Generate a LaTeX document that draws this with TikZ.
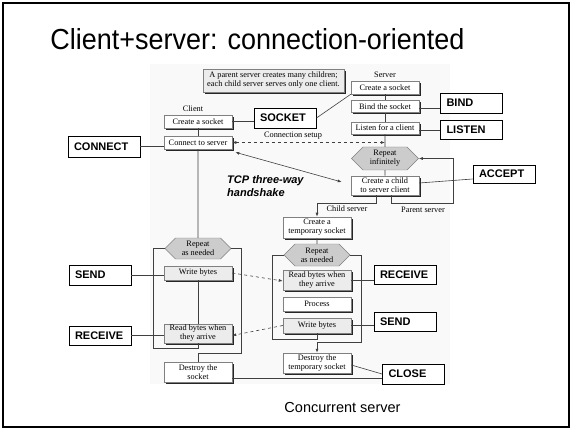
\documentclass[tikz,border=0pt]{standalone}
\usepackage{fontspec}
\setmainfont{Liberation Serif}
\setsansfont{Liberation Sans}
\usetikzlibrary{arrows.meta,shadows,shapes.symbols}

\begin{document}
\begin{tikzpicture}[x=1pt,y=-1pt,
  tip/.style={-{Latex[length=4pt,width=3pt]}},
  dtip/.style={{Latex[length=4pt,width=3pt]}-{Latex[length=4pt,width=3pt]}},
  small/.style={font=\fontsize{8.3}{9}\selectfont},
  stepbox/.style={small, draw=black!50, fill=white, line width=0.5pt,
    inner sep=0pt, minimum width=68pt, align=center,
    drop shadow={shadow xshift=1.8pt, shadow yshift=-1.8pt, opacity=1, fill=black!85}},
  graybox/.style={stepbox, fill=gray!15},
  loophex/.style={small, signal, signal to=west and east, draw=black!50,
    fill=gray!40, inner sep=0pt, minimum width=66pt, minimum height=22pt, align=center},
  callbox/.style={draw=black, line width=0.9pt, fill=white, inner xsep=6pt,
    inner ysep=0pt, text width=50pt, align=left, minimum height=20pt,
    font=\sffamily\bfseries\fontsize{11}{12}\selectfont},
  lbl/.style={small, inner sep=0pt},
  link/.style={draw=black!75, line width=0.6pt}]

\useasboundingbox (0,0) rectangle (572,430);
\fill[white] (0,0) rectangle (572,430);
% figure backdrop
\fill[gray!5] (150,64) rectangle (450,384);
% slide frame
\draw[line width=1.8pt] (3,3) rectangle (569,427);

\node[anchor=base, inner sep=0pt, font=\sffamily\fontsize{29}{32}\selectfont] (title) at (257.5,50)
  {\scalebox{0.93}[1]{Client+server: connection-oriented}};
\node[anchor=base, inner sep=0pt, font=\sffamily\fontsize{14.5}{16}\selectfont] (caption) at (342.5,412)
  {Concurrent server};

% note
\node[graybox, minimum width=141pt, minimum height=23pt] (note) at (273.5,80.5)
  {A parent server creates many children;\\each child server serves only one client.};

% client column
\node[lbl] (clientlbl) at (193,109) {Client};
\node[stepbox, minimum height=13pt] (ccreate) at (198,121.5) {Create a socket};
\node[stepbox, minimum height=13pt] (cconn) at (198,142.5) {Connect to server};
\node[loophex, minimum height=21pt] (chex) at (198,248.5) {Repeat\\as needed};
\node[graybox, minimum height=14pt] (cwrite) at (198,273) {Write bytes};
\node[graybox, minimum height=19pt] (cread) at (198,333.5) {Read bytes when\\they arrive};
\node[stepbox, minimum height=20pt] (cdestroy) at (198,372) {Destroy the\\socket};

% server column
\node[lbl] (serverlbl) at (385,75) {Server};
\node[stepbox, minimum height=13pt] (screate) at (385,87.5) {Create a socket};
\node[stepbox, minimum height=12pt] (sbind) at (385,106.5) {Bind the socket};
\node[stepbox, minimum height=12pt] (slisten) at (385,128) {Listen for a client};
\node[loophex, minimum width=67pt, minimum height=23pt] (shex) at (385,158.5) {Repeat\\infinitely};
\node[stepbox, minimum height=19pt] (schild) at (385,185.5) {Create a child\\to server client};

% child server column
\node[stepbox, minimum height=21pt] (tcreate) at (317,227.5) {Create a\\temporary socket};
\node[loophex] (thex) at (317,255) {Repeat\\as needed};
\node[graybox, minimum height=20pt] (tread) at (317,280) {Read bytes when\\they arrive};
\node[stepbox, minimum height=14pt] (tproc) at (317,304) {Process};
\node[graybox, minimum height=15pt] (twrite) at (317,325.5) {Write bytes};
\node[stepbox, minimum height=20pt] (tdestroy) at (317,363) {Destroy the\\temporary socket};

% text labels
\node[lbl] (setuplbl) at (293,136) {Connection setup};
\node[lbl] (childlbl) at (347,209) {Child server};
\node[lbl] (parentlbl) at (423,210) {Parent server};
\node[anchor=north west, inner sep=0pt, align=left,
  font=\sffamily\bfseries\itshape\fontsize{11}{13}\selectfont] (tcp) at (227,175)
  {TCP three-way\\handshake};

% socket calls
\node[callbox] (socketc) at (285,118) {SOCKET};
\node[callbox] (bindc) at (471.5,103) {BIND};
\node[callbox, minimum height=19pt] (listenc) at (471.5,129.5) {LISTEN};
\node[callbox, minimum height=18pt] (acceptc) at (504,174) {ACCEPT};
\node[callbox, text width=60pt, minimum height=21pt] (connectc) at (104,146.5) {CONNECT};
\node[callbox] (sendl) at (100,275) {SEND};
\node[callbox, minimum height=19pt] (recvl) at (100,335.5) {RECEIVE};
\node[callbox, minimum height=19pt] (recvr) at (405,274.5) {RECEIVE};
\node[callbox, minimum height=19pt] (sendr) at (405,321.5) {SEND};
\node[callbox] (closec) at (413.5,374) {CLOSE};

% client flow
\draw[link] (ccreate) -- (cconn);
\draw[link] (cconn) -- (chex);
\draw[link] (cwrite) -- (cread);
\draw[link] (cread.south) -- ++(0,5.5) -| ([xshift=-11pt]chex.west) -- (chex.west);
\draw[link] (chex.east) -- ++(10,0) |- ([yshift=8pt]cdestroy.north) -- (cdestroy.north);

% server flow
\draw[link] (screate) -- (sbind);
\draw[link] (sbind) -- (slisten);
\draw[link] (slisten) -- (shex);
\draw[link] (shex) -- (schild);
\draw[link,tip] ([xshift=6.5pt]schild.south) -- ++(0,8) -| ([xshift=35pt]shex.east) -- (shex.east);
\draw[link,tip] ([xshift=-8.5pt]schild.south) -- ++(0,8) -| (tcreate.north);

% child server flow
\draw[link] (tcreate) -- (thex);
\draw[link] (twrite.south) -- ++(0,6) -| ([xshift=-11pt]thex.west) -- (thex.west);
\draw[link,tip] (thex.east) -- ++(11,0) |- ([yshift=10pt]tdestroy.north) -- (tdestroy.north);

% calls attached to steps
\draw[link] (ccreate.east) -- (ccreate.east -| socketc.west);
\draw[link] (socketc.east) -- (screate.south west);
\draw[link] ([yshift=-1.5pt]sbind.east) -- ([yshift=-1.5pt]sbind.east -| bindc.west);
\draw[link] ([yshift=-2.5pt]slisten.east) -- ([yshift=-2.5pt]slisten.east -| listenc.west);
\draw[link] ([yshift=2.5pt]schild.east) -- ([yshift=-5pt]acceptc.west);
\draw[link] (connectc.east) -- (connectc.east -| cconn.west);
\draw[link] (sendl.east) -- (sendl.east -| cwrite.west);
\draw[link] (recvl.east) -- (recvl.east -| cread.west);
\draw[link] (tread.east) -- (tread.east -| recvr.west);
\draw[link] (twrite.east) -- (twrite.east -| sendr.west);
\draw[link] ([yshift=-6pt]cdestroy.east) -- ([yshift=-6pt]cdestroy.east -| closec.west);
\draw[link] ([yshift=-2pt]tdestroy.east) -- (closec.west);

% messages between client and server
\coordinate (strunk) at (slisten.south |- cconn.east);
\draw[link,dashed,dtip] (cconn.east) -- (strunk);
\draw[link,dtip] ([xshift=3pt,yshift=-3pt]cconn.south east) -- ([xshift=-9pt,yshift=3.5pt]schild.west);
\draw[link,dashed,tip] (cwrite.east) -- ([yshift=-1pt]tread.west);
\draw[link,dashed,tip] (twrite.west) -- ([yshift=-2pt]cread.east);
\end{tikzpicture}
\end{document}
